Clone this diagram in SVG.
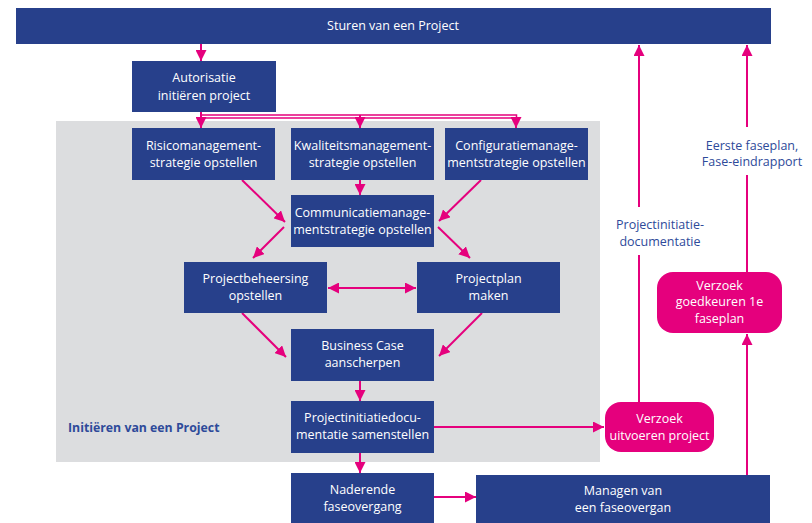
<svg xmlns="http://www.w3.org/2000/svg" width="812" height="523" viewBox="0 0 812 523">
  <defs>
    <marker id="ah" viewBox="0 0 10 10" refX="10" refY="5" markerWidth="11" markerHeight="11" markerUnits="userSpaceOnUse" orient="auto-start-reverse">
      <path d="M0,0 L10,5 L0,10 Z" fill="#E5007D"/>
    </marker>
    <style>
      .box { fill: #27408B; }
      .pill { fill: #E5007D; }
      .t { font-family: "Open Sans", "Noto Sans", sans-serif; font-size: 12.5px; fill: #FFFFFF; text-anchor: middle; }
      .lbl { font-family: "Open Sans", "Noto Sans", sans-serif; font-size: 12.5px; fill: #2E4A9A; text-anchor: middle; }
      .ttl { font-family: "Open Sans", "Noto Sans", sans-serif; font-size: 12.3px; font-weight: bold; fill: #2E4A9A; }
      .c { fill: none; stroke: #E5007D; stroke-width: 2; }
      .ca { fill: none; stroke: #E5007D; stroke-width: 2; marker-end: url(#ah); }
      .cd { fill: none; stroke: #E5007D; stroke-width: 1.5; }
    </style>
  </defs>

  <!-- initiation area background -->
  <rect x="56" y="121" width="544" height="341" fill="#DCDDDF"/>
  <text class="ttl" x="68" y="432">Initiëren van een Project</text>

  <g id="connectors">
    <path class="ca" d="M201,44 V61"/>
    <!-- distribution from authorisation -->
    <path class="cd" d="M201,112 V118 H513.5"/>
    <path class="cd" d="M201,115 H516.5 V118"/>
    <path class="ca" d="M201,112 V128"/>
    <path class="ca" d="M360,115 V128"/>
    <path class="ca" d="M516,117 V128"/>
    <!-- into communication strategy -->
    <path class="ca" d="M242,180 L285,222"/>
    <path class="ca" d="M360,180 V195"/>
    <path class="ca" d="M481,180 L439,221"/>
    <!-- out of communication strategy -->
    <path class="ca" d="M284,227 L253,258"/>
    <path class="ca" d="M438,227 L470,258"/>
    <!-- between control and plan -->
    <path class="c" d="M328,288 H416" marker-start="url(#ah)" marker-end="url(#ah)"/>
    <!-- into business case -->
    <path class="ca" d="M242,313 L286,357"/>
    <path class="ca" d="M482,313 L439,356"/>
    <path class="ca" d="M360,381 V401"/>
    <path class="ca" d="M360,453 V473"/>
    <path class="ca" d="M434,427 H604"/>
    <path class="ca" d="M434,497 H476"/>
    <!-- upward flows to direction -->
    <path class="c" d="M639,402 V255"/>
    <path class="ca" d="M639,207 V45"/>
    <path class="ca" d="M747,475 V334"/>
    <path class="c" d="M747,272 V175"/>
    <path class="ca" d="M747,127 V45"/>
  </g>

  <g id="sturen">
    <rect class="box" x="16" y="8" width="755" height="36"/>
    <text class="t" x="393" y="30">Sturen van een Project</text>
  </g>

  <g id="autorisatie">
    <rect class="box" x="132" y="61" width="144" height="51"/>
    <text class="t" x="204" y="82">Autorisatie</text>
    <text class="t" x="204" y="100">initiëren project</text>
  </g>

  <g id="risico">
    <rect class="box" x="132" y="128" width="143" height="52"/>
    <text class="t" x="203.5" y="150">Risicomanagement-</text>
    <text class="t" x="203.5" y="167">strategie opstellen</text>
  </g>

  <g id="kwaliteit">
    <rect class="box" x="291" y="128" width="143" height="52"/>
    <text class="t" x="362.5" y="150">Kwaliteitsmanagement-</text>
    <text class="t" x="362.5" y="167">strategie opstellen</text>
  </g>

  <g id="configuratie">
    <rect class="box" x="445" y="128" width="143" height="52"/>
    <text class="t" x="516.5" y="150">Configuratiemanage-</text>
    <text class="t" x="516.5" y="167">mentstrategie opstellen</text>
  </g>

  <g id="communicatie">
    <rect class="box" x="291" y="195" width="143" height="52"/>
    <text class="t" x="362.5" y="217">Communicatiemanage-</text>
    <text class="t" x="362.5" y="234">mentstrategie opstellen</text>
  </g>

  <g id="beheersing">
    <rect class="box" x="184" y="262" width="143" height="51"/>
    <text class="t" x="255.5" y="283">Projectbeheersing</text>
    <text class="t" x="255.5" y="300">opstellen</text>
  </g>

  <g id="projectplan">
    <rect class="box" x="417" y="262" width="143" height="51"/>
    <text class="t" x="488.5" y="283">Projectplan</text>
    <text class="t" x="488.5" y="300">maken</text>
  </g>

  <g id="businesscase">
    <rect class="box" x="291" y="329" width="143" height="52"/>
    <text class="t" x="362.5" y="350">Business Case</text>
    <text class="t" x="362.5" y="367">aanscherpen</text>
  </g>

  <g id="pid">
    <rect class="box" x="291" y="401" width="143" height="52"/>
    <text class="t" x="362.5" y="422">Projectinitiatiedocu-</text>
    <text class="t" x="362.5" y="439">mentatie samenstellen</text>
  </g>

  <g id="naderend">
    <rect class="box" x="291" y="473" width="143" height="51"/>
    <text class="t" x="362.5" y="494">Naderende</text>
    <text class="t" x="362.5" y="511">faseovergang</text>
  </g>

  <g id="managen">
    <rect class="box" x="476" y="475" width="294" height="49"/>
    <text class="t" x="623" y="495">Managen van</text>
    <text class="t" x="623" y="512">een faseovergan</text>
  </g>

  <g id="uitvoeren">
    <rect class="pill" x="605" y="402" width="109" height="50" rx="16"/>
    <text class="t" x="659.5" y="423">Verzoek</text>
    <text class="t" x="659.5" y="440">uitvoeren project</text>
  </g>

  <g id="goedkeuren">
    <rect class="pill" x="657" y="272" width="125" height="61" rx="16"/>
    <text class="t" x="719.5" y="290">Verzoek</text>
    <text class="t" x="719.5" y="306">goedkeuren 1e</text>
    <text class="t" x="719.5" y="323">faseplan</text>
  </g>

  <g id="labels">
    <text class="lbl" x="660" y="229">Projectinitiatie-</text>
    <text class="lbl" x="660" y="246">documentatie</text>
    <text class="lbl" x="752" y="150">Eerste faseplan,</text>
    <text class="lbl" x="752" y="166">Fase-eindrapport</text>
  </g>
</svg>
